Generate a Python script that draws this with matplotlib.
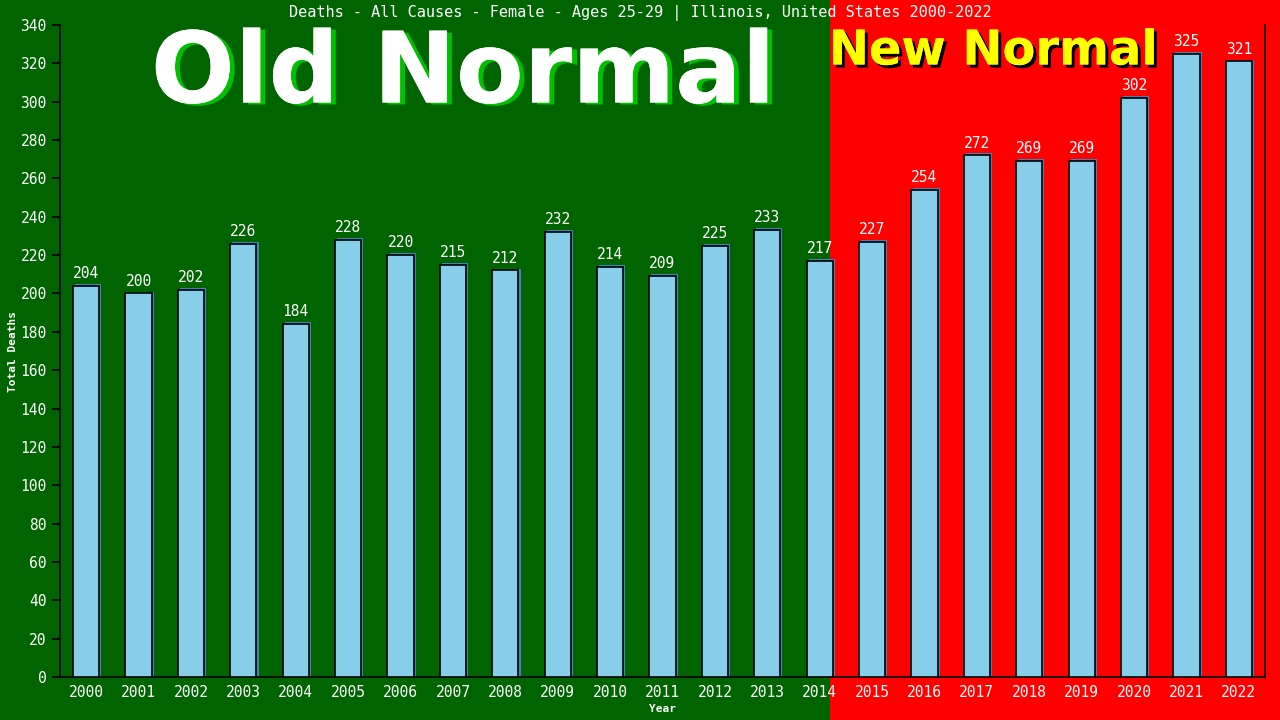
import numpy as np
import matplotlib.pyplot as plt
import matplotlib.patheffects as pe
from matplotlib.patches import Rectangle

years = [str(y) for y in range(2000, 2023)]
deaths = [204, 200, 202, 226, 184, 228, 220, 215, 212, 232, 214, 209, 225, 233, 217,
          227, 254, 272, 269, 269, 302, 325, 321]
y_ticks = list(range(0, 341, 20))

title = "Deaths - All Causes - Female - Ages 25-29 | Illinois, United States 2000-2022"
mono = "DejaVu Sans Mono"

fig = plt.figure(figsize=(12.8, 7.2), dpi=100, facecolor="#006400")
# red "new normal" background from just before 2015 to the right edge
fig.patches.append(Rectangle((830 / 1280, 0), 1 - 830 / 1280, 1, transform=fig.transFigure,
                             facecolor="#ff0000", edgecolor="none", zorder=0))

ax = fig.add_axes([60 / 1280, 43 / 720, 1205 / 1280, 652 / 720])
ax.patch.set_alpha(0)
ax.set_zorder(1)

x = np.arange(len(years))
# shadow bars
ax.bar(x + 0.04, np.array(deaths) + 1, width=0.5, color="#4682b4", zorder=2)
ax.bar(x, deaths, width=0.5, color="#87ceeb", edgecolor="black", linewidth=1.2, zorder=3)
for xi, v in zip(x, deaths):
    ax.text(xi, v + 2.5, str(v), ha="center", va="bottom", color="white",
            fontsize=10.5, family=mono, zorder=4)

ax.set_xlim(-0.5, len(years) - 0.5)
ax.set_ylim(0, 340)
ax.set_yticks(y_ticks)
ax.set_xticks(x)
ax.set_xticklabels(years)
ax.tick_params(axis="x", length=0, colors="white", labelsize=10.5, pad=6)
ax.tick_params(axis="y", length=6, color="black", labelcolor="white", labelsize=10.5, width=1.2)
for lab in ax.get_xticklabels() + ax.get_yticklabels():
    lab.set_family(mono)
for s in ["left", "bottom", "right"]:
    ax.spines[s].set_color("black")
    ax.spines[s].set_linewidth(1.2)
ax.spines["top"].set_visible(False)

ax.set_ylabel("Total Deaths", color="white", fontsize=8, family=mono, fontweight="bold", labelpad=2)
ax.set_xlabel("Year", color="white", fontsize=8, family=mono, fontweight="bold", labelpad=3)

fig.text(0.5, 1 - 13 / 720, title, ha="center", va="center", color="white", fontsize=11, family=mono)

# big labels, shadow done with path effects
fig.text(463 / 1280, 1 - 75 / 720, "Old Normal", ha="center", va="center",
         color="white", fontsize=71, fontweight="bold", family="DejaVu Sans",
         path_effects=[pe.withSimplePatchShadow(offset=(3.6, -1.4), shadow_rgbFace="#00c000", alpha=1),
                       pe.Normal()])
fig.text(993 / 1280, 1 - 51 / 720, "New Normal", ha="center", va="center",
         color="#ffff00", fontsize=34.5, fontweight="heavy", family="DejaVu Sans",
         path_effects=[pe.withSimplePatchShadow(offset=(2.2, -2.2), shadow_rgbFace="black", alpha=1),
                       pe.Normal()])

fig.savefig("out.png", dpi=100, facecolor=fig.get_facecolor())
